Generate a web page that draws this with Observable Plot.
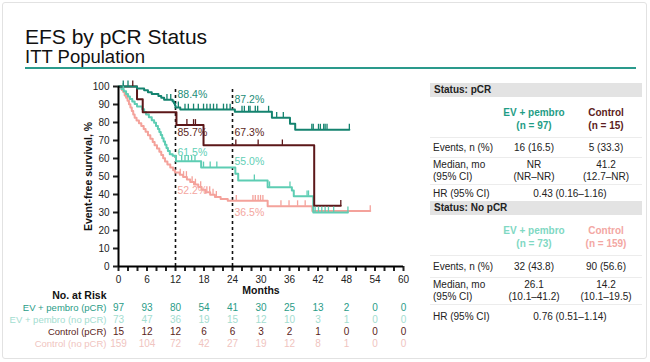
<!DOCTYPE html>
<html><head><meta charset="utf-8">
<script src="https://cdn.jsdelivr.net/npm/d3@7"></script>
<script src="https://cdn.jsdelivr.net/npm/@observablehq/plot@0.6"></script>
<style>
body{margin:0;width:650px;height:362px;overflow:hidden;background:#fff;font-family:Arial,"Liberation Sans",sans-serif;position:relative}
#card{position:absolute;left:2px;top:2px;width:645px;height:357px;border:1px solid #e2e2e2;border-radius:3px;box-sizing:border-box}
#title{position:absolute;left:25px;top:26px;font-size:21px;color:#111;line-height:1}
#subtitle{position:absolute;left:25px;top:48px;font-size:18.5px;color:#111;line-height:1}
#rule{position:absolute;left:25px;top:67px;width:611px;height:2px;background:#2a9a8c}
#main{position:absolute;left:0;top:75px}
#risk{position:absolute;left:0;top:287px}
svg{overflow:visible}
svg [aria-label$="axis tick"]{stroke-width:2px}
svg .tick line{stroke-width:2px}
#tbl{position:absolute;left:430px;top:83px;width:212px;font-size:10px;color:#222}
.band{height:14px;line-height:14px;background:#e3e3e3;font-weight:bold;padding-left:4px}
.row{display:flex;box-sizing:border-box;border-top:1px solid #ececec}
.row.head{border-top:none}
.c0{width:68px;padding-left:3px;box-sizing:border-box}
.c1{width:72px;text-align:center}
.c2{width:72px;text-align:center}
.head .c1,.head .c2{font-weight:bold;line-height:13px;padding-top:9px}
</style>
</head><body>
<div id="card"></div>
<div id="title">EFS by pCR Status</div>
<div id="subtitle">ITT Population</div>
<div id="rule"></div>
<div id="main"></div>
<div id="risk"></div>
<div id="tbl"></div>
<script>
// ---- Kaplan-Meier curves (months, survival %) ----
const evPcrTimes = [0, 3.9, 5.4, 6.2, 7.0, 8.4, 9.0, 9.6, 11.4, 11.7, 11.9, 12.0, 13.0, 24.5, 32.3, 36.1, 37.2];
const evPcrSurv  = [100, 98.9, 97.9, 96.8, 95.8, 94.7, 93.7, 92.6, 91.6, 90.5, 89.5, 88.4, 87.2, 86.0, 82.6, 79.3, 76.0];
const evPcrEnd = 48.6;
const evPcrCens = [1.0, 2.0, 10.2, 11.0, 12.6, 14.0, 14.7, 15.8, 16.8, 17.9, 18.6, 19.3, 20.0, 20.7, 22.1, 22.8, 23.5, 26.0, 26.5, 27.4, 27.7, 28.8, 29.3, 31.6, 33.3, 34.7, 40.7, 41.0, 42.1, 42.5, 43.2, 43.5, 43.9, 48.6];

const evNoTimes = [0, 0.6, 1.1, 1.6, 2.0, 2.4, 2.9, 3.4, 3.9, 5.0, 5.4, 5.8, 6.4, 7.0, 7.5, 7.9, 8.3, 8.6, 8.9, 9.2, 9.5, 9.8, 10.1, 10.4, 10.8, 11.4, 12.1, 17.4, 24.6, 25.2, 31.4, 36.5, 36.9, 41.0];
const evNoSurv  = [100, 98.6, 97.3, 95.9, 94.5, 93.1, 91.7, 90.3, 88.9, 87.4, 85.9, 84.4, 82.9, 81.3, 79.8, 78.1, 76.4, 74.7, 73.0, 71.3, 69.5, 67.7, 65.9, 64.1, 62.3, 61.5, 58.5, 55.0, 51.5, 47.8, 44.0, 42.2, 39.0, 30.0];
const evNoEnd = 48.3;
const evNoCens = [1.0, 13.3, 14.0, 14.7, 15.4, 16.1, 17.9, 19.3, 20.7, 28.6, 31.8, 36.1, 39.7, 40.0, 41.4, 42.1, 42.8, 43.5, 44.2, 45.3, 48.3];

const ctlPcrTimes = [0, 3.9, 5.1, 12.2, 17.9, 41.2];
const ctlPcrSurv  = [100, 92.9, 85.7, 78.6, 67.3, 33.7];
const ctlPcrEnd = 46.8;
const ctlPcrCens = [3.0, 14.4, 15.8, 16.2, 24.7, 29.4, 34.5, 46.8];

const ctlNoTimes = [0, 0.4, 0.7, 1.0, 1.3, 1.6, 1.9, 2.2, 2.5, 2.8, 3.1, 3.4, 3.8, 4.3, 4.8, 5.3, 5.7, 6.2, 6.7, 7.2, 7.6, 8.1, 8.6, 9.0, 9.4, 9.8, 10.3, 10.9, 11.5, 11.9, 12.9, 13.6, 14.4, 15.1, 15.9, 16.8, 17.5, 18.3, 19.3, 20.3, 21.5, 23.0, 31.4, 40.8];
const ctlNoSurv  = [100, 99.4, 98.1, 96.9, 95.0, 93.7, 92.1, 90.2, 88.3, 86.4, 84.5, 82.6, 81.1, 79.6, 78.0, 76.4, 74.8, 72.9, 71.0, 69.2, 67.4, 65.6, 63.8, 62.0, 60.2, 58.4, 56.6, 55.0, 53.5, 52.2, 51.0, 49.7, 48.3, 46.9, 45.5, 44.1, 42.7, 41.3, 39.9, 38.6, 37.5, 36.5, 33.5, 30.8];
const ctlNoEnd = 53.0;
const ctlNoCens = [13.0, 13.7, 14.3, 15.5, 16.2, 17.3, 18.6, 19.2, 19.9, 20.6, 24.8, 28.3, 28.8, 29.4, 29.9, 30.4, 34.2, 35.9, 37.7, 39.3, 53.0];

const seriesNames = ["EV + pembro (pCR)", "EV + pembro (no pCR)", "Control (pCR)", "Control (no pCR)"];
const curveColors = ["#14836f", "#5dcdb3", "#5c1719", "#f4a29b"];
const riskTextColors = ["#2a9c87", "#a3ddd0", "#5a1d20", "#f0c4c0"];

// ---- Landmark labels ----
const lmMonth = [12, 24, 12, 24, 12, 24, 12, 24];
const lmValue = [88.4, 87.2, 85.7, 67.3, 61.5, 55.0, 52.2, 36.5];
const lmDy = [-13, -10, 20, -13, -3, -6, 18, 11.5];
const lmColors = ["#1b8c78", "#1b8c78", "#5c1f22", "#5c1f22", "#62cfb6", "#62cfb6", "#f4a6a0", "#f4a6a0"];

// ---- Number at risk ----
const riskMonths = [0, 6, 12, 18, 24, 30, 36, 42, 48, 54, 60];
const riskEvPcr = [97, 93, 80, 54, 41, 30, 25, 13, 2, 0, 0];
const riskEvNo  = [73, 47, 36, 19, 15, 12, 10, 3, 1, 0, 0];
const riskCtlPcr = [15, 12, 12, 6, 6, 3, 2, 1, 0, 0, 0];
const riskCtlNo  = [159, 104, 72, 42, 27, 19, 12, 8, 1, 0, 0];

// ---- Summary table ----
const tblStatus = ["Status: pCR", "Status: No pCR"];
const tblEvName = ["EV + pembro", "EV + pembro"];
const tblEvN = ["(n = 97)", "(n = 73)"];
const tblCtlName = ["Control", "Control"];
const tblCtlN = ["(n = 15)", "(n = 159)"];
const tblEvColor = ["#1f9d86", "#7fd8c3"];
const tblCtlColor = ["#5d1c21", "#f3a7a3"];
const tblEvents = [["16 (16.5)", "5 (33.3)"], ["32 (43.8)", "90 (56.6)"]];
const tblMedian = [["NR", "41.2"], ["26.1", "14.2"]];
const tblMedianCI = [["(NR–NR)", "(12.7–NR)"], ["(10.1–41.2)", "(10.1–19.5)"]];
const tblHR = ["0.43 (0.16–1.16)", "0.76 (0.51–1.14)"];

// ---- build tables for Plot ----
const allTimes = [evPcrTimes, evNoTimes, ctlPcrTimes, ctlNoTimes];
const allSurv = [evPcrSurv, evNoSurv, ctlPcrSurv, ctlNoSurv];
const allEnd = [evPcrEnd, evNoEnd, ctlPcrEnd, ctlNoEnd];
const allCens = [evPcrCens, evNoCens, ctlPcrCens, ctlNoCens];
const stepAt = (k, t) => { let v = allSurv[k][0]; allTimes[k].forEach((tt, i) => { if (tt <= t) v = allSurv[k][i]; }); return v; };

const drawOrder = [3, 1, 2, 0];
const curveData = [];
const censData = [];
drawOrder.forEach(k => {
  allTimes[k].forEach((t, i) => curveData.push({series: seriesNames[k], t, s: allSurv[k][i], color: curveColors[k]}));
  curveData.push({series: seriesNames[k], t: allEnd[k], s: stepAt(k, allEnd[k]), color: curveColors[k]});
  allCens[k].forEach(t => censData.push({series: seriesNames[k], t, s: stepAt(k, t), color: curveColors[k]}));
});

const font = "Arial, 'Liberation Sans', sans-serif";

const main = Plot.plot({
  width: 420, height: 221,
  marginLeft: 118, marginRight: 17, marginTop: 11, marginBottom: 30,
  style: {fontFamily: font, fontSize: "10px", background: "transparent", color: "#222"},
  color: {type: "identity"},
  x: {domain: [0, 60], ticks: d3.range(0, 61, 2), tickFormat: d => d % 6 === 0 ? d : "", tickSize: 5, label: null},
  y: {domain: [0, 100], ticks: d3.range(0, 101, 10), tickSize: 5, label: null},
  marks: [
    Plot.ruleX([12, 24], {y1: 0, y2: 100, stroke: "#111", strokeWidth: 1.6, strokeDasharray: "3,3"}),
    Plot.line(curveData, {x: "t", y: "s", z: "series", stroke: "color", strokeWidth: 2, curve: "step-after"}),
    Plot.ruleX(censData, {x: "t", y1: "s", y2: d => d.s + 3, stroke: "color", strokeWidth: 1.3}),
    ...lmValue.map((v, i) => Plot.text([i], {x: () => lmMonth[i], y: () => v, text: () => v.toFixed(1) + "%", fill: lmColors[i], textAnchor: "start", dx: 2, dy: lmDy[i], fontSize: 10.5})),
    Plot.ruleY([0], {stroke: "#000", strokeWidth: 2}),
    Plot.ruleX([0], {y1: 0, y2: 100, stroke: "#000", strokeWidth: 2}),
    Plot.text(["Months"], {frameAnchor: "bottom", textAnchor: "middle", dy: 27, fontWeight: "bold", fontSize: 10.5, fill: "#111"}),
    Plot.text(["Event-free survival, %"], {frameAnchor: "left", textAnchor: "middle", rotate: -90, dx: -30, fontWeight: "bold", fontSize: 10.5, fill: "#111"})
  ]
});
document.getElementById("main").appendChild(main);

const riskValues = [riskEvPcr, riskEvNo, riskCtlPcr, riskCtlNo];
const riskData = [];
seriesNames.forEach((name, i) => riskMonths.forEach((m, j) => riskData.push({row: name, m, n: riskValues[i][j], color: riskTextColors[i]})));
const rowLabels = seriesNames.map((name, i) => ({row: name, color: riskTextColors[i]}));

const risk = Plot.plot({
  width: 420, height: 64,
  marginLeft: 118, marginRight: 17, marginTop: 0, marginBottom: 0,
  style: {fontFamily: font, fontSize: "9.5px", background: "transparent"},
  color: {type: "identity"},
  x: {domain: [0, 60], axis: null},
  y: {type: "point", domain: seriesNames, range: [19, 57], padding: 0, axis: null},
  marks: [
    Plot.text(riskData, {x: "m", y: "row", text: "n", fill: "color", fontSize: 10}),
    Plot.text(rowLabels, {x: () => 0, y: "row", text: "row", fill: "color", textAnchor: "end", dx: -12}),
    Plot.text(["No. at Risk"], {frameAnchor: "top-left", textAnchor: "end", dx: -12, dy: 4, fontWeight: "bold", fontSize: 10.5, fill: "#111"})
  ]
});
document.getElementById("risk").appendChild(risk);

// ---- summary table (HTML) ----
const tbl = document.getElementById("tbl");
const rowH = [[40, 20, 27, 17], [40, 22, 27, 24]];
tblStatus.forEach((st, s) => {
  let h = `<div class="band">${st}</div>`;
  h += `<div class="row head" style="height:${rowH[s][0]}px"><div class="c0"></div>` +
       `<div class="c1" style="color:${tblEvColor[s]}">${tblEvName[s]}<br>${tblEvN[s]}</div>` +
       `<div class="c2" style="color:${tblCtlColor[s]}">${tblCtlName[s]}<br>${tblCtlN[s]}</div></div>`;
  h += `<div class="row" style="height:${rowH[s][1]}px;align-items:center"><div class="c0">Events, n (%)</div><div class="c1">${tblEvents[s][0]}</div><div class="c2">${tblEvents[s][1]}</div></div>`;
  h += `<div class="row" style="height:${rowH[s][2]}px;line-height:12px;padding-top:1px"><div class="c0">Median, mo<br>(95% CI)</div><div class="c1">${tblMedian[s][0]}<br>${tblMedianCI[s][0]}</div><div class="c2">${tblMedian[s][1]}<br>${tblMedianCI[s][1]}</div></div>`;
  h += `<div class="row" style="height:${rowH[s][3]}px;align-items:center"><div class="c0">HR (95% CI)</div><div style="width:144px;text-align:center">${tblHR[s]}</div></div>`;
  tbl.insertAdjacentHTML("beforeend", h);
});
</script>
</body></html>
